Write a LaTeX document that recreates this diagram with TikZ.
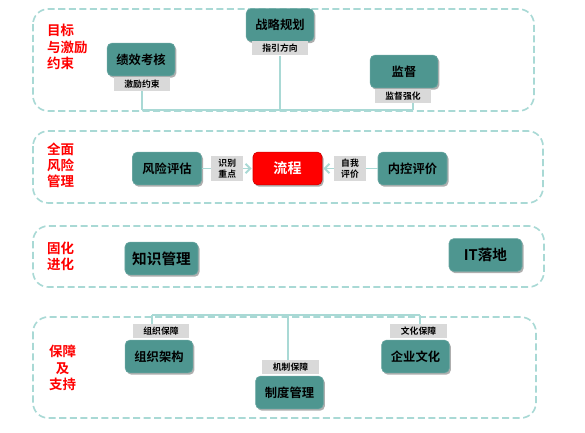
\documentclass[tikz,border=0pt]{standalone}
\usepackage{fontspec}
\setmainfont{Noto Sans CJK SC}[BoldFont={Noto Sans CJK SC Bold}]
\usetikzlibrary{shadows,arrows.meta}
\definecolor{tealbox}{HTML}{4E9690}
\definecolor{tagbg}{HTML}{D9D9D9}
\definecolor{linkc}{HTML}{A9D9D5}
\tikzset{
  pane/.style={draw=linkc,line width=1.4pt,dash pattern=on 6pt off 3pt,rounded corners=13pt},
  item/.style={shape=rectangle,rounded corners=4pt,fill=tealbox,draw=tealbox!85!white,line width=0.5pt,
    minimum width=2.03cm,minimum height=0.98cm,inner sep=0pt,font=\fontsize{10.5}{12}\selectfont\bfseries,
    drop shadow={shadow xshift=1.3pt,shadow yshift=-1.6pt,fill=black!45,opacity=0.7}},
  bigitem/.style={item,minimum width=2.19cm,font=\fontsize{12.5}{14}\selectfont\bfseries},
  hotitem/.style={item,fill=red,draw=red!80!black,text=white,font=\fontsize{12}{14}\selectfont\bfseries},
  tag/.style={shape=rectangle,fill=tagbg,inner sep=0pt,minimum width=1.7cm,minimum height=0.42cm,
    font=\fontsize{7.5}{8}\selectfont\bfseries},
  tagtwo/.style={tag,minimum width=0.95cm,minimum height=0.75cm,align=center,font=\fontsize{7.5}{9.5}\selectfont\bfseries},
  head/.style={text=red,align=left,inner sep=0pt,font=\fontsize{11.5}{13.8}\selectfont\bfseries},
  link/.style={draw=linkc,line width=1.3pt},
  flow/.style={link,-{Straight Barb[length=4pt,width=8pt,line width=1.6pt]}},
}

\begin{document}
\begin{tikzpicture}[x=0.03cm,y=-0.03cm]
\useasboundingbox (0,0) rectangle (585,433);
\draw[pane] (33,9) rectangle (534,111);
\draw[pane] (33,131) rectangle (543,203);
\draw[pane] (33,226) rectangle (544,287);
\draw[pane] (33,317) rectangle (536,418);

\node[head,anchor=west] (17) at (47,47) {目标\\与激励\\约束};
\node[head,anchor=west] (18) at (47,165) {全面\\风险\\管理};
\node[head,anchor=west] (19) at (47,256) {固化\\进化};
\node[head,align=center] (20) at (62.5,368) {保障\\及\\支持};

\node[item] (0) at (280,25) {战略规划};
\node[tag] (1) at (280,48.5) {指引方向};
\node[item] (2) at (141,59.5) {绩效考核};
\node[tag] (3) at (142,84) {激励约束};
\node[item] (4) at (404,71.5) {监督};
\node[tag] (5) at (403,96) {监督强化};

\node[item,minimum width=2.07cm] (6) at (167,168.5) {风险评估};
\node[hotitem,minimum width=2.07cm] (7) at (287.5,168.5) {流程};
\node[item,minimum width=2.07cm] (8) at (412.5,168.5) {内控评价};

\node[bigitem] (9) at (161.5,258.5) {知识管理};
\node[bigitem] (10) at (485.5,255) {IT落地};

\node[tag] (11) at (161,331) {组织保障};
\node[item] (12) at (159,356.5) {组织架构};
\node[tag] (13) at (290.5,367) {机制保障};
\node[item] (14) at (289.5,392.5) {制度管理};
\node[tag] (15) at (418.5,331) {文化保障};
\node[item] (16) at (415.5,356.5) {企业文化};

\coordinate (h1) at (142,110);
\coordinate (h2) at (280,110);
\coordinate (h3) at (413,110);
\path [link] (3) edge (h1) (1) edge (h2) (h1) edge (h3) (h3) edge (h3 |- 5.south);

\path [flow,shorten >=1pt] (6) edge node[tagtwo] (21) {识别\\重点} (7);
\path [flow,shorten >=1pt] (8) edge node[tagtwo] (22) {自我\\评价} (7);

\coordinate (g1) at (152,315);
\coordinate (g2) at (288,315);
\coordinate (g3) at (420,315);
\path [link] (g1) edge (g3) (g1) edge (g1 |- 11.north) (g2) edge (g2 |- 13.north) (g3) edge (g3 |- 15.north);
\end{tikzpicture}
\end{document}
